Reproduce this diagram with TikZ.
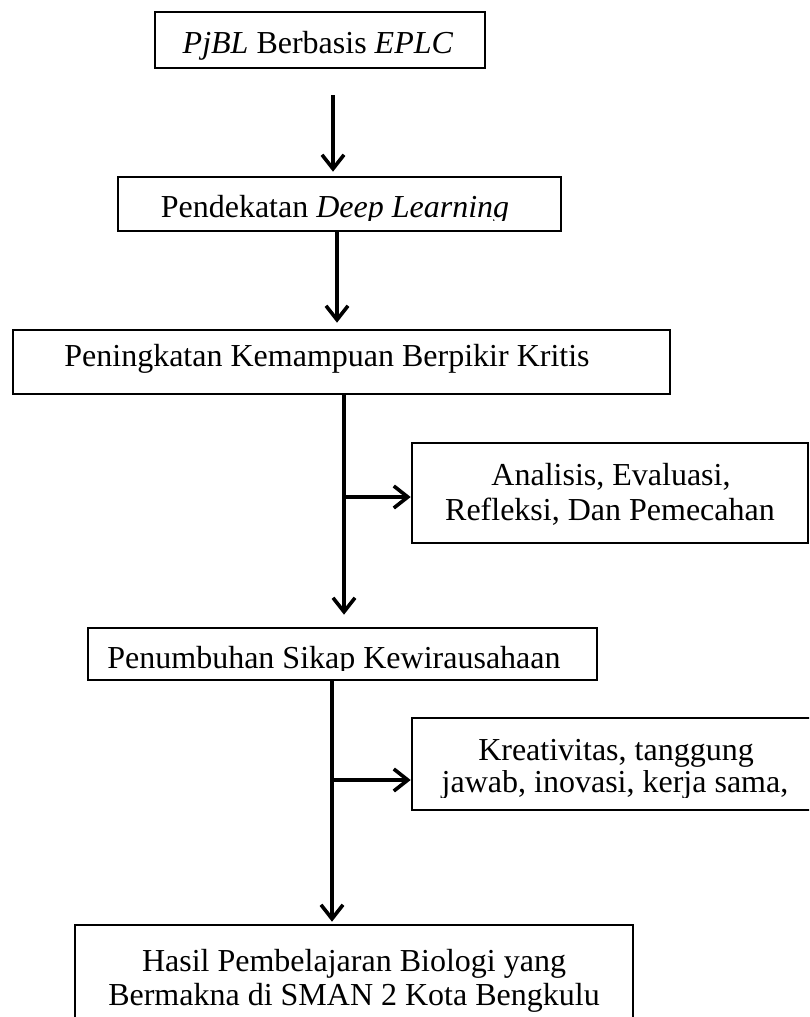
\documentclass[tikz,border=0pt]{standalone}
\usepackage{fontspec}
\setmainfont{Liberation Serif}
\usetikzlibrary{arrows.meta,calc}
\begin{document}
\begin{tikzpicture}[x=1pt,y=-1pt,
  box/.style={draw, line width=2.6pt, inner sep=0pt},
  txt/.style={anchor=base, inner sep=0pt, font=\fontsize{32}{35}\selectfont},
  arr/.style={line width=3.6pt, -{Straight Barb[length=14pt,width=22pt]}},
  ln/.style={line width=3.6pt}]
\useasboundingbox (0,0) rectangle (809,1017);
\clip (0,0) rectangle (809,1017);
% boxes
\node[box, minimum width=330pt, minimum height=56pt] (b1) at (320,40) {};
\node[box, minimum width=443pt, minimum height=54pt] (b2) at (339.5,204) {};
\node[box, minimum width=657pt, minimum height=64pt] (b3) at (341.5,362) {};
\node[box, minimum width=396pt, minimum height=100pt] (b4) at (610,493) {};
\node[box, minimum width=509pt, minimum height=52pt] (b5) at (342.5,654) {};
\node[box, minimum width=418pt, minimum height=92pt] (b7) at (621,764) {};
\node[box, minimum width=558pt, minimum height=115pt] (b6) at (354,982.5) {};
% texts
\node[txt] (t1) at (318,53) {\textit{PjBL} Berbasis \textit{EPLC}};
\begin{scope}
  \clip (118,177) rectangle (561,220);
  \node[txt] (t2) at (335,217) {Pendekatan \textit{Deep Learning}};
\end{scope}
\node[txt] (t3) at (327,366) {Peningkatan Kemampuan Berpikir Kritis};
\node[txt] (t4a) at (611,485) {Analisis, Evaluasi,};
\node[txt] (t4b) at (610,520) {Refleksi, Dan Pemecahan};
\begin{scope}
  \clip (88,628) rectangle (597,670);
  \node[txt] (t5) at (334,668) {Penumbuhan Sikap Kewirausahaan};
\end{scope}
\node[txt] (t7a) at (616,760) {Kreativitas, tanggung};
\begin{scope}
  \clip (412,770) rectangle (809,797);
  \node[txt] (t7b) at (615,792) {jawab, inovasi, kerja sama,};
\end{scope}
\node[txt] (t6a) at (354,971) {Hasil Pembelajaran Biologi yang};
\node[txt] (t6b) at (354,1005) {Bermakna di SMAN 2 Kota Bengkulu};
% connectors
\coordinate (a1s) at (333,95);
\draw[arr, shorten >=4pt] (a1s) -- (a1s |- b2.north);
\coordinate (c2) at (337,0);
\draw[arr, shorten >=6pt] (c2 |- b2.south) -- (c2 |- b3.north);
\coordinate (c3) at (344,0);
\draw[arr, shorten >=12pt] (c3 |- b3.south) -- (c3 |- b5.north);
\coordinate (j1) at (344,497);
\draw[arr] (j1) -- (j1 -| b4.west);
\coordinate (c5) at (332,0);
\draw[arr, shorten >=2pt] (c5 |- b5.south) -- (c5 |- b6.north);
\coordinate (j2) at (332,780);
\draw[arr] (j2) -- (j2 -| b7.west);
\end{tikzpicture}
\end{document}
